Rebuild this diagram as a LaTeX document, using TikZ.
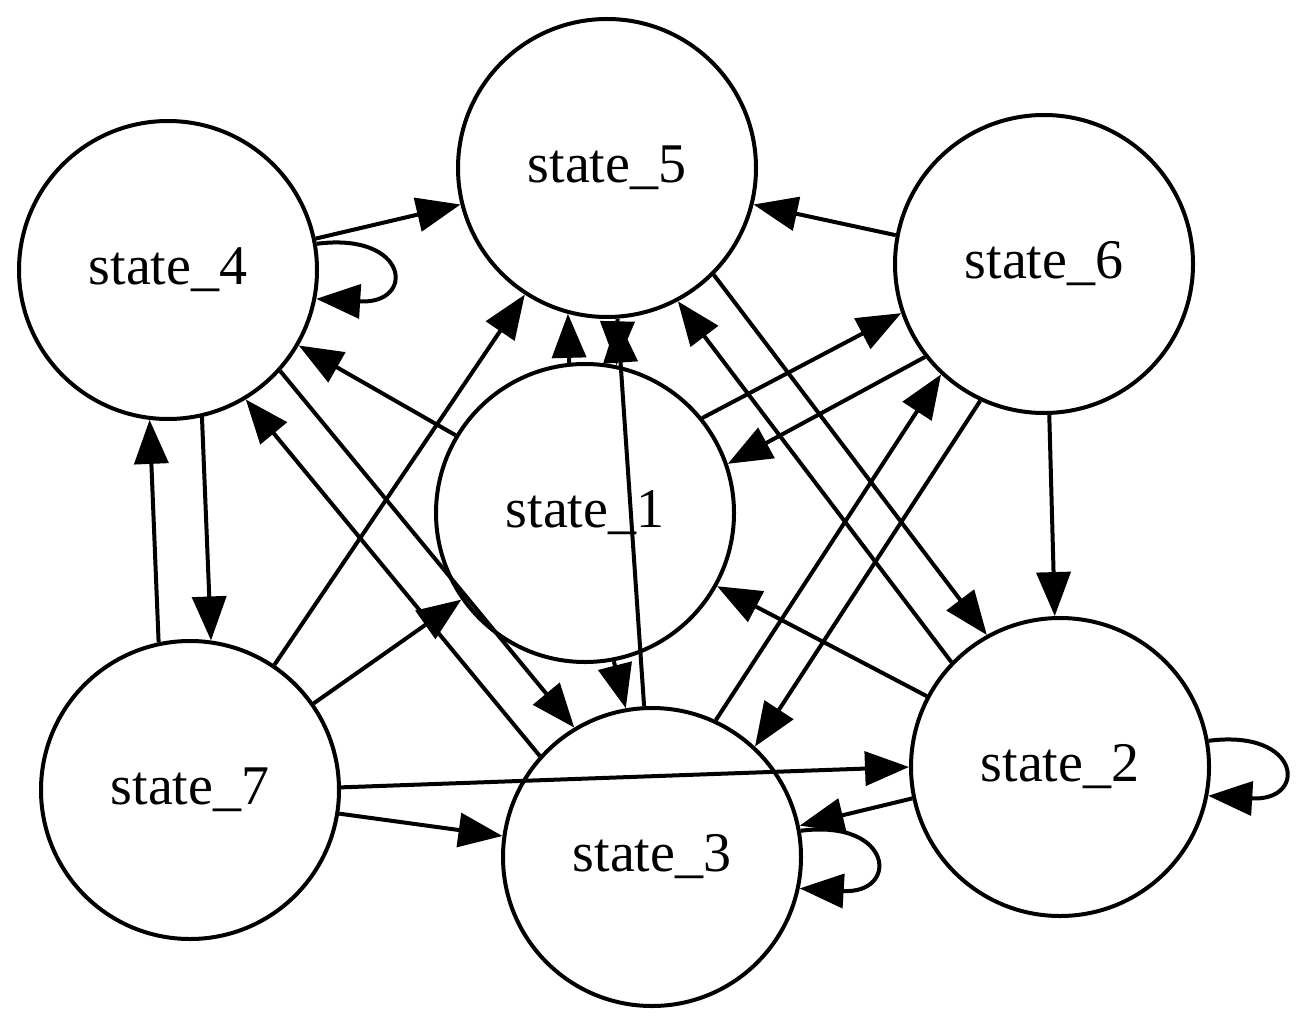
\documentclass[tikz,border=0pt]{standalone}
\usepackage{fontspec}
\setmainfont{Liberation Serif}
\usetikzlibrary{arrows.meta,calc}
\begin{document}
\begin{tikzpicture}[x=0.5pt,y=0.5pt,
  statenode/.style={circle, draw, line width=2pt, minimum size=149pt, inner sep=0pt,
    font=\fontsize{28pt}{34pt}\selectfont},
  edge/.style={line width=2pt, -{Triangle[length=22pt,width=17pt]}}]
\useasboundingbox (0,0) rectangle (1304,1030);

% states
\node[statenode] (s5) at (607,862) {state\_5};
\node[statenode] (s4) at (168,760) {state\_4};
\node[statenode] (s6) at (1044,766) {state\_6};
\node[statenode] (s1) at (585,517) {state\_1};
\node[statenode] (s7) at (190,240) {state\_7};
\node[statenode] (s3) at (652,173) {state\_3};
\node[statenode] (s2) at (1060,263) {state\_2};

% transitions
\draw[edge] (s4.12) -- (s5.194);
\draw[edge] (s4.10) .. controls ($(s4.10)+(93,12)$) and ($(s4.-11)+(100,-6)$) .. (s4.-11);
\draw[edge] (s1.149) -- (s4.-30);
\draw[edge] (s4.-42) -- (s3.121);
\draw[edge] (s3.138) -- (s4.-59);
\draw[edge] (s4.-77) -- (s7.82);
\draw[edge] (s7.102) -- (s4.-97);
\draw[edge] (s7.56) -- (s5.237);
\draw[edge] (s7.35) -- (s1.215);
\draw[edge] (s7.1) -- (s2.180);
\draw[edge] (s7.-9) -- (s3.172);
\draw[edge] (s1.96) -- (s5.255);
\draw[edge] (s5.-86) -- (s1.78);
\draw[edge] (s3.93) -- (s5.-86);
\draw[edge] (s1.-79) -- (s3.100);
\draw[edge] (s5.-45) -- (s2.119);
\draw[edge] (s2.136) -- (s5.-62);
\draw[edge] (s6.169) -- (s5.-14);
\draw[edge] (s1.39) -- (s6.199);
\draw[edge] (s6.218) -- (s1.19);
\draw[edge] (s3.65) -- (s6.227);
\draw[edge] (s6.245) -- (s3.47);
\draw[edge] (s6.-88) -- (s2.92);
\draw[edge] (s2.152) -- (s1.-29);
\draw[edge] (s2.192) -- (s3.12);
\draw[edge] (s2.10) .. controls ($(s2.10)+(93,12)$) and ($(s2.-11)+(100,-6)$) .. (s2.-11);
\draw[edge] (s3.10) .. controls ($(s3.10)+(93,12)$) and ($(s3.-12)+(100,-6)$) .. (s3.-12);
\end{tikzpicture}
\end{document}
